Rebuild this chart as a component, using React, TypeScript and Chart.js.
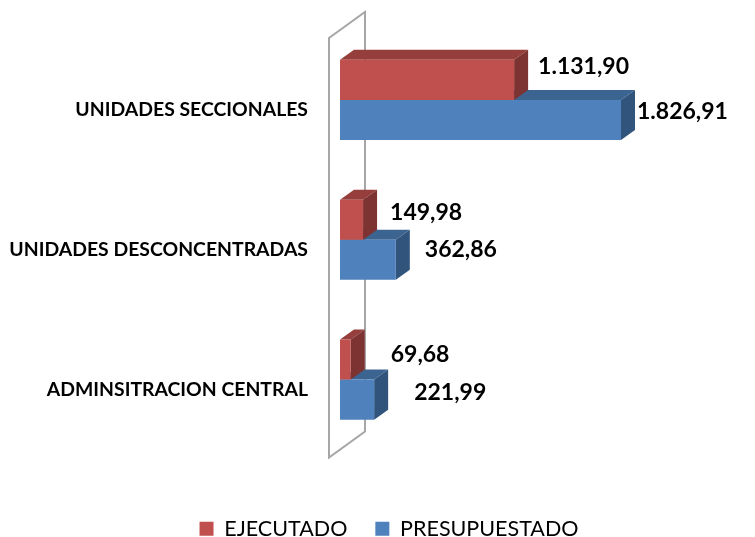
import React, { useEffect, useRef } from "react";
import { Chart, registerables } from "chart.js";

Chart.register(...registerables);

const categories = ["UNIDADES SECCIONALES", "UNIDADES DESCONCENTRADAS", "ADMINSITRACION CENTRAL"];
const ejecutado = [1131.9, 149.98, 69.68];
const presupuestado = [1826.91, 362.86, 221.99];

const RED = { front: "#C0504D", top: "#963E3B", side: "#7D3331" };
const BLUE = { front: "#4F81BD", top: "#3C6491", side: "#31547C" };
const FACES = [RED, BLUE];
const DEPTH_X = 14;
const DEPTH_Y = 10;
const FONT = "Lato, Carlito, Calibri, sans-serif";

// hand-placed data labels of the reference: offset from each bar's end / centre
const LABEL_SHIFT = [
  [[24, -13], [27, -7], [40, -5]],
  [[16, -8], [29, -10], [40, -7]],
];

const fmt = (v: number) => {
  const [i, d] = v.toFixed(2).split(".");
  return i.replace(/\B(?=(\d{3})+$)/g, ".") + "," + d;
};

const poly = (ctx: CanvasRenderingContext2D, pts: number[][], fill: string) => {
  ctx.beginPath();
  pts.forEach((p, i) => (i ? ctx.lineTo(p[0], p[1]) : ctx.moveTo(p[0], p[1])));
  ctx.closePath();
  ctx.fillStyle = fill;
  ctx.fill();
};

const bars3d = {
  id: "bars3d",
  afterLayout(chart: any) {
    const lg = chart.legend;
    const h = lg.bottom - lg.top;
    lg.left += 11.5;
    lg.right += 11.5;
    lg.top = 490;
    lg.bottom = 490 + h;
  },
  beforeDatasetsDraw(chart: any) {
    const { ctx, chartArea: a } = chart;
    ctx.save();
    ctx.strokeStyle = "#A6A6A6";
    ctx.lineWidth = 2;
    ctx.lineJoin = "miter";
    const l = a.left - 11, r = a.left + 25;
    ctx.beginPath();
    ctx.moveTo(l, a.top + 8);
    ctx.lineTo(r, a.top - 18);
    ctx.lineTo(r, a.bottom - 18);
    ctx.lineTo(l, a.bottom + 8);
    ctx.closePath();
    ctx.stroke();
    ctx.restore();
  },
  beforeDatasetDraw(chart: any, args: any) {
    const { ctx } = chart;
    const f = FACES[args.index];
    chart.getDatasetMeta(args.index).data.forEach((b: any) => {
      const h = b.height / 2;
      const x0 = b.base, x1 = b.x, t = b.y - h, bt = b.y + h;
      poly(ctx, [[x0, t], [x0 + DEPTH_X, t - DEPTH_Y], [x1 + DEPTH_X, t - DEPTH_Y], [x1, t]], f.top);
      poly(ctx, [[x1, t], [x1 + DEPTH_X, t - DEPTH_Y], [x1 + DEPTH_X, bt - DEPTH_Y], [x1, bt]], f.side);
    });
  },
  afterDatasetsDraw(chart: any) {
    const { ctx } = chart;
    ctx.save();
    ctx.font = `bold 23px ${FONT}`;
    ctx.fillStyle = "#000000";
    ctx.textAlign = "left";
    ctx.textBaseline = "middle";
    chart.data.datasets.forEach((ds: any, i: number) => {
      chart.getDatasetMeta(i).data.forEach((b: any, j: number) => {
        const [dx, dy] = LABEL_SHIFT[i][j];
        ctx.fillText(fmt(ds.data[j]), b.x + dx, b.y + dy);
      });
    });
    ctx.restore();
  },
};

export default function App() {
  const ref = useRef<HTMLCanvasElement>(null);
  useEffect(() => {
    document.body.style.margin = "0";
    const chart = new Chart(ref.current!, {
      type: "bar",
      data: {
        labels: categories,
        datasets: [
          { label: "EJECUTADO", data: ejecutado, backgroundColor: RED.front },
          { label: "PRESUPUESTADO", data: presupuestado, backgroundColor: BLUE.front },
        ],
      },
      options: {
        indexAxis: "y",
        animation: false,
        responsive: false,
        categoryPercentage: 0.5735,
        barPercentage: 1,
        layout: { padding: { top: 30, right: 0, left: 0, bottom: 0 } },
        scales: {
          x: {
            min: 0,
            max: 2698,
            grid: { display: false },
            border: { display: false },
            ticks: { display: false },
            afterFit: (s: any) => {
              s.height = 28;
            },
          },
          y: {
            grid: { display: false },
            border: { display: false },
            ticks: {
              padding: 24,
              labelOffset: 10,
              color: "#000000",
              font: { family: FONT, size: 19.4, weight: "bold" },
            },
            afterFit: (s: any) => {
              s.width = 340;
              s.paddingTop = 0;
              s.paddingBottom = 0;
            },
          },
        },
        plugins: {
          tooltip: { enabled: false },
          legend: {
            position: "bottom",
            labels: {
              boxWidth: 14,
              boxHeight: 14,
              padding: 28,
              color: "#000000",
              font: { family: FONT, size: 21.5 },
            },
          },
        },
      } as any,
      plugins: [bars3d as any],
    });
    return () => chart.destroy();
  }, []);
  return <canvas ref={ref} width={755} height={537} style={{ display: "block" }} />;
}
